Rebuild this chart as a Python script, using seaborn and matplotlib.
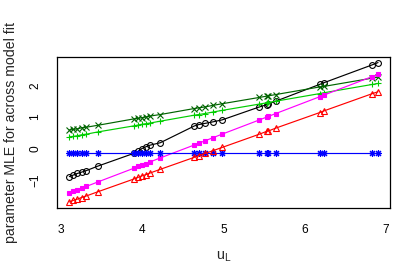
import matplotlib
matplotlib.use("Agg")
import matplotlib.pyplot as plt
import seaborn as sns
import pandas as pd

# lower threshold values
u_L = [3.10, 3.15, 3.20, 3.25, 3.31, 3.45,
       3.89, 3.95, 3.99, 4.04, 4.09, 4.22,
       4.64, 4.69, 4.77, 4.87, 4.98,
       5.44, 5.53, 5.55, 5.64,
       6.18, 6.24,
       6.83, 6.90]

mle_black = [-0.88, -0.83, -0.78, -0.74, -0.69, -0.55,
             -0.15, -0.08, 0.00, 0.06, 0.11, 0.19,
             0.72, 0.76, 0.80, 0.85, 0.91,
             1.32, 1.39, 1.42, 1.50,
             2.03, 2.09,
             2.65, 2.72]
mle_darkgreen = [0.59, 0.61, 0.63, 0.66, 0.68, 0.74,
                 0.94, 0.96, 0.98, 1.00, 1.03, 1.08,
                 1.27, 1.29, 1.32, 1.37, 1.42,
                 1.62, 1.66, 1.67, 1.71,
                 1.95, 1.97,
                 2.23, 2.26]
mle_green = [0.37, 0.39, 0.41, 0.44, 0.46, 0.53,
             0.72, 0.75, 0.77, 0.79, 0.81, 0.87,
             1.06, 1.08, 1.11, 1.16, 1.21,
             1.41, 1.45, 1.46, 1.50,
             1.74, 1.77,
             2.03, 2.06]
mle_magenta = [-1.40, -1.35, -1.30, -1.25, -1.19, -1.05,
               -0.62, -0.56, -0.52, -0.47, -0.42, -0.29,
               0.12, 0.17, 0.25, 0.35, 0.46,
               0.91, 1.00, 1.02, 1.11,
               1.64, 1.70,
               2.28, 2.35]
mle_blue = [-0.13] * len(u_L)
mle_red = [-1.68, -1.63, -1.59, -1.54, -1.49, -1.36,
           -0.96, -0.90, -0.86, -0.82, -0.77, -0.65,
           -0.27, -0.22, -0.15, -0.06, 0.04,
           0.46, 0.55, 0.56, 0.65,
           1.14, 1.20,
           1.74, 1.80]

x_ticks = [3, 4, 5, 6, 7]
y_ticks = [-1, 0, 1, 2]

series = [
    (mle_black, "black", "o", "none", 4.2),
    (mle_darkgreen, "#006400", "x", "#006400", 3.8),
    (mle_green, "#00CD00", "+", "#00CD00", 4.8),
    (mle_magenta, "#FF00FF", "s", "#FF00FF", 3.0),
    (mle_blue, "#0000FF", (8, 2, 0), "#0000FF", 5.0),
    (mle_red, "#FF0000", "^", "none", 4.4),
]

sns.set_style("white")
plt.rcParams["font.family"] = ["Liberation Sans", "DejaVu Sans"]

fig = plt.figure(figsize=(4.2, 2.8), dpi=100)
ax = fig.add_axes([0.1357, 0.2589, 0.7938, 0.5375])

for vals, col, mk, fc, ms in series:
    df = pd.DataFrame({"u": u_L, "mle": vals})
    sns.lineplot(data=df, x="u", y="mle", ax=ax, color=col, lw=0.85,
                 marker=mk, markersize=ms, markerfacecolor=fc,
                 markeredgecolor=col, markeredgewidth=0.8)

ax.set_xlim(2.948, 7.052)
ax.set_ylim(-1.856, 2.896)
ax.set_xticks(x_ticks)
ax.set_yticks(y_ticks)
ax.set_xticklabels([str(t) for t in x_ticks])
ax.set_yticklabels([str(t).replace("-", "\u2212") for t in y_ticks],
                   rotation=90, va="center")
ax.tick_params(axis="both", direction="out", length=5.2, width=0.8,
               color="black", labelsize=8.6, labelcolor="black")
ax.tick_params(axis="x", pad=7)
ax.tick_params(axis="y", pad=6)
for sp in ax.spines.values():
    sp.set_color("black")
    sp.set_linewidth(0.9)

ax.set_xlabel(r"$\mathregular{u_L}$", fontsize=10.4)
ax.set_ylabel("parameter MLE for across model fit", fontsize=10.2)
ax.xaxis.set_label_coords(0.5, -0.28)
ax.yaxis.set_label_coords(-0.118, 0.5)

fig.savefig("out.png", dpi=100)
